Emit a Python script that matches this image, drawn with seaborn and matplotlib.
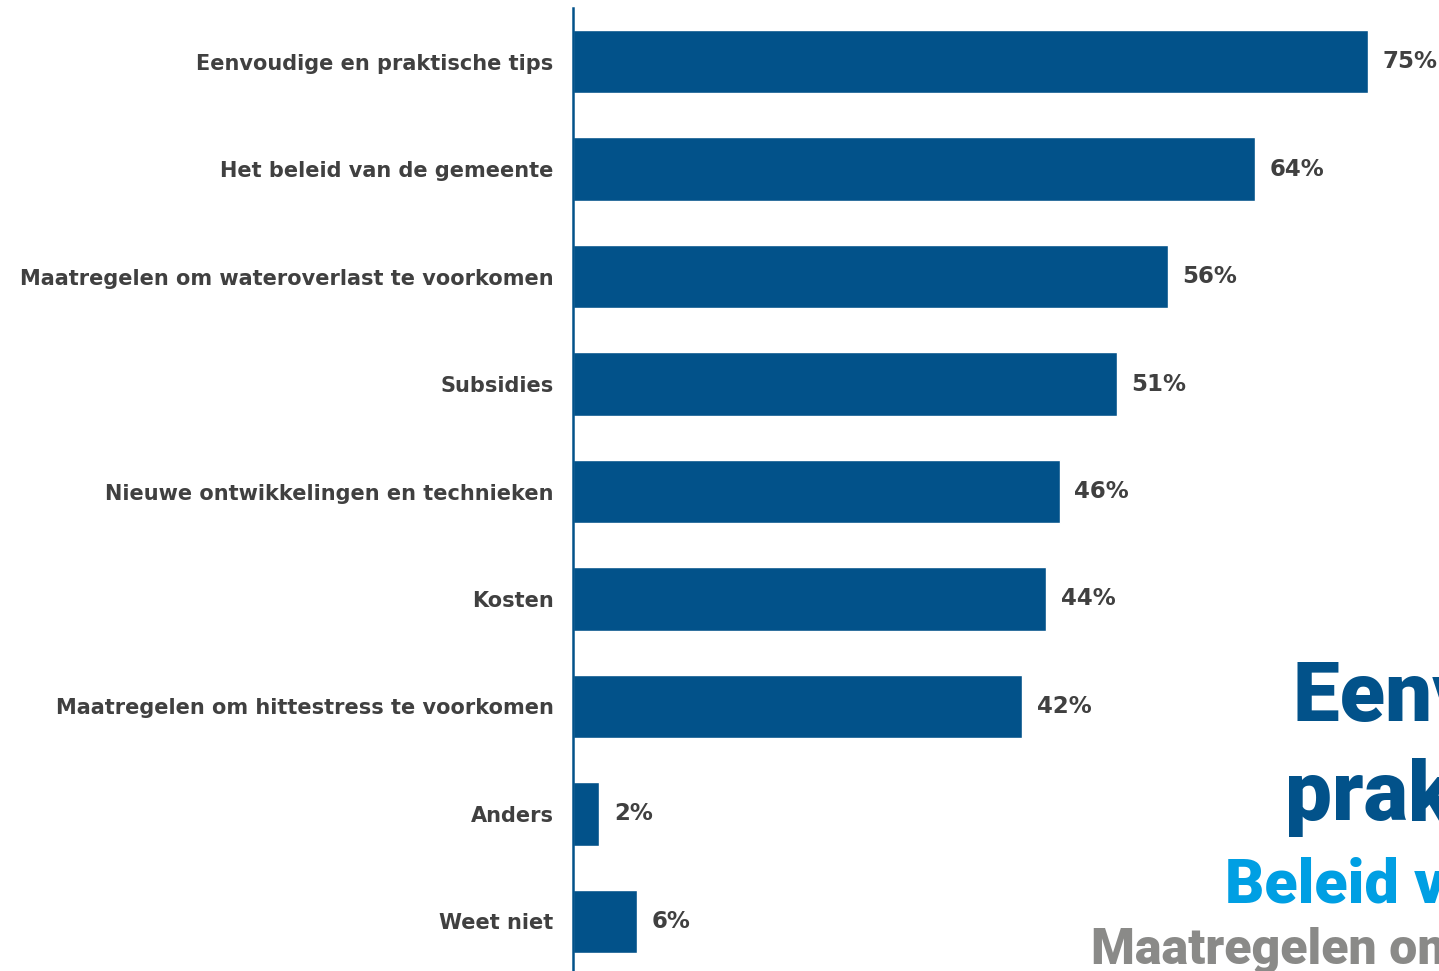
import pandas as pd
import matplotlib
matplotlib.use('Agg')
import matplotlib.pyplot as plt
from matplotlib import font_manager
import seaborn as sns

# Data
categories = ['Eenvoudige en praktische tips', 'Het beleid van de gemeente',
              'Maatregelen om wateroverlast te voorkomen', 'Subsidies',
              'Nieuwe ontwikkelingen en technieken', 'Kosten',
              'Maatregelen om hittestress te voorkomen', 'Anders', 'Weet niet']
values = [75.0, 64.3, 56.1, 51.3, 45.9, 44.6, 42.4, 2.5, 6.0]
pct_labels = ['75%', '64%', '56%', '51%', '46%', '44%', '42%', '2%', '6%']

cloud_words = ['Eenvoudige en', 'praktische tips', 'Beleid van de gemeente',
               'Maatregelen om wateroverlast te voorkomen']

df = pd.DataFrame({'categorie': categories, 'waarde': values})

bar_color = '#02528A'
text_color = '#404040'

sns.set_style('white')
plt.rcParams['font.family'] = ['DejaVu Sans']

# zwaar lettertype voor de woordwolk (eerste dat gevonden wordt)
cloud_font = 'DejaVu Sans'
for fam in ['Roboto', 'Inter', 'Lato']:
    try:
        font_manager.findfont(font_manager.FontProperties(family=fam, weight='black'),
                              fallback_to_default=False)
        cloud_font = fam
        break
    except Exception:
        pass

fig = plt.figure(figsize=(14.39, 9.71), dpi=100)
ax = fig.add_axes([573 / 1439, 1 - 975 / 971, 1 - 573 / 1439, (975 - 8) / 971])

sns.barplot(data=df, y='categorie', x='waarde', color=bar_color,
            saturation=1, width=0.59, ax=ax)

ax.set_xlim(0, 81.7)
ax.set_xlabel('')
ax.set_ylabel('')
ax.set_xticks([])
ax.tick_params(axis='y', length=0, pad=14)
for lab in ax.get_yticklabels():
    lab.set_fontsize(15)
    lab.set_fontweight('bold')
    lab.set_color(text_color)

for side in ['top', 'right', 'bottom']:
    ax.spines[side].set_visible(False)
ax.spines['left'].set_color(bar_color)
ax.spines['left'].set_linewidth(1.8)

for i, (v, lab) in enumerate(zip(values, pct_labels)):
    ax.text(v + 1.4, i, lab, va='center', ha='left',
            fontsize=16.5, fontweight='bold', color=text_color)

# woordwolk-fragment rechtsonder (loopt door buiten de figuur)
fig.text(1293 / 1439, 1 - 721 / 971, cloud_words[0], fontsize=60,
         fontweight='black', color='#02528A', ha='left', va='baseline',
         family=cloud_font)
fig.text(1285 / 1439, 1 - 820 / 971, cloud_words[1], fontsize=60,
         fontweight='black', color='#02528A', ha='left', va='baseline',
         family=cloud_font)
fig.text(1225 / 1439, 1 - 903 / 971, cloud_words[2], fontsize=44,
         fontweight='black', color='#009FE3', ha='left', va='baseline',
         family=cloud_font)
fig.text(1091 / 1439, 1 - 964 / 971, cloud_words[3], fontsize=36,
         fontweight='black', color='#8A8A88', ha='left', va='baseline',
         family=cloud_font)

fig.savefig('out.png', dpi=100)
plt.close(fig)
